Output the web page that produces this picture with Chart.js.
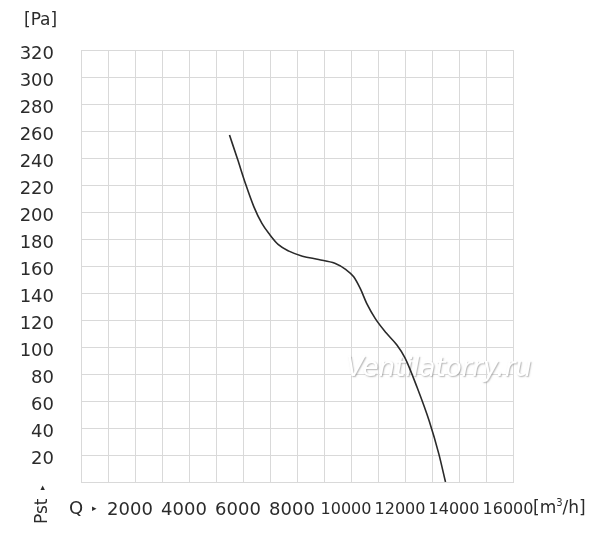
<!DOCTYPE html>
<html>
<head>
<meta charset="utf-8">
<script src="https://cdn.jsdelivr.net/npm/chart.js@4"></script>
<style>
  html, body { margin: 0; padding: 0; background: #fff; }
  #wrap { width: 600px; height: 537px; position: relative; }
</style>
</head>
<body>
<div id="wrap"><canvas id="fanChart"></canvas></div>
<script>
// Fan curve: airflow Q [m3/h] vs static pressure Pst [Pa]
const flowValues = [5500, 5800, 6100, 6400, 6700, 7000, 7300, 7700, 8200, 8800, 9400, 9800, 10100, 10350, 10600, 10900, 11300, 11700, 12000, 12450, 12900, 13250, 13500];
const pressureValues = [257, 239, 220.5, 204, 191.5, 183, 176, 171, 167.3, 164.8, 162, 157.5, 152, 143, 131.5, 121, 110.5, 101.5, 92, 70, 45, 21, 0];

const xTickLabels = [2000, 4000, 6000, 8000, 10000, 12000, 14000, 16000];
const yTickLabels = [20, 40, 60, 80, 100, 120, 140, 160, 180, 200, 220, 240, 260, 280, 300, 320];

const textColor = '#2b2b2b';
const gridColor = '#d9d9d9';
const fontFamily = '"DejaVu Sans", Verdana, sans-serif';

// Extra labels around the axes + watermark
const decorations = {
    id: 'decorations',
    beforeDatasetsDraw(chart) {
        const { ctx } = chart;
        ctx.save();
        ctx.font = 'italic 26px ' + fontFamily;
        ctx.textAlign = 'center';
        ctx.textBaseline = 'middle';
        ctx.shadowColor = 'rgba(120,120,120,0.55)';
        ctx.shadowBlur = 1.5;
        ctx.shadowOffsetX = 1;
        ctx.shadowOffsetY = 1;
        ctx.fillStyle = '#ffffff';
        ctx.fillText('Ventilatorry.ru', 439, 369);
        ctx.restore();
    },
    afterDraw(chart) {
        const { ctx } = chart;
        ctx.save();
        ctx.fillStyle = textColor;
        ctx.textBaseline = 'middle';

        ctx.font = '17px ' + fontFamily;
        ctx.textAlign = 'left';
        ctx.fillText('[Pa]', 24, 21);

        ctx.font = '18px ' + fontFamily;
        ctx.fillText('Q', 69, 509);
        ctx.font = '9px ' + fontFamily;
        ctx.fillText('\u25B8', 92, 509);

        ctx.font = '17px ' + fontFamily;
        ctx.fillText('[m', 533, 509);
        const mw = ctx.measureText('[m').width;
        ctx.font = '10px ' + fontFamily;
        ctx.fillText('3', 533 + mw, 503);
        const sw = ctx.measureText('3').width;
        ctx.font = '17px ' + fontFamily;
        ctx.fillText('/h]', 533 + mw + sw, 509);

        // rotated axis name
        ctx.translate(43, 524);
        ctx.rotate(-Math.PI / 2);
        ctx.font = '17px ' + fontFamily;
        ctx.textAlign = 'left';
        ctx.fillText('Pst', 0, 0);
        ctx.font = '9px ' + fontFamily;
        ctx.fillText('\u25B8', 34, 0);
        ctx.restore();
    }
};

const points = flowValues.map((q, i) => ({ x: q, y: pressureValues[i] }));

new Chart(document.getElementById('fanChart'), {
    type: 'line',
    data: {
        datasets: [{
            data: points,
            borderColor: '#2a2a2a',
            borderWidth: 1.6,
            pointRadius: 0,
            fill: false,
            cubicInterpolationMode: 'monotone'
        }]
    },
    options: {
        responsive: true,
        maintainAspectRatio: false,
        animation: false,
        layout: {
            padding: { top: 50, right: 87, bottom: 0, left: 0 }
        },
        plugins: {
            legend: { display: false },
            tooltip: { enabled: false }
        },
        scales: {
            x: {
                type: 'linear',
                min: 0,
                max: 16000,
                afterFit(scale) { scale.height = 55; },
                afterBuildTicks(scale) {
                    const t = [0];
                    for (let v = 1000; v <= 16000; v += 1000) t.push(v);
                    scale.ticks = t.map(v => ({ value: v }));
                },
                grid: { color: gridColor, lineWidth: 1, drawTicks: false },
                border: { color: gridColor },
                ticks: {
                    autoSkip: false,
                    maxRotation: 0,
                    padding: 18,
                    labelOffset: -5,
                    color: textColor,
                    font: ctx => ({ family: fontFamily, size: String(ctx.tick && ctx.tick.value).length > 4 ? 16 : 18 }),
                    callback: v => xTickLabels.includes(v) ? String(v) : ''
                }
            },
            y: {
                type: 'linear',
                min: 0,
                max: 320,
                afterFit(scale) { scale.width = 81; },
                afterBuildTicks(scale) {
                    const t = [0];
                    for (let v = 20; v <= 320; v += 20) t.push(v);
                    scale.ticks = t.map(v => ({ value: v }));
                },
                grid: { color: gridColor, lineWidth: 1, drawTicks: false },
                border: { color: gridColor },
                ticks: {
                    autoSkip: false,
                    padding: 27,
                    labelOffset: 4,
                    color: textColor,
                    font: { family: fontFamily, size: 18 },
                    callback: v => yTickLabels.includes(v) ? String(v) : ''
                }
            }
        }
    },
    plugins: [decorations]
});
</script>
</body>
</html>
